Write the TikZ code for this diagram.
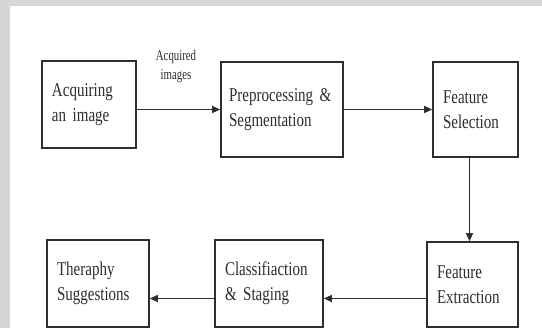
\documentclass[tikz,border=0pt]{standalone}
\usepackage{fontspec}
\setmainfont{Liberation Serif}
\newfontfamily\boxfont[FakeStretch=0.77]{Liberation Serif}
\newfontfamily\tagfont[FakeStretch=0.72]{Liberation Serif}
\usetikzlibrary{arrows.meta,positioning}
\definecolor{pagegray}{HTML}{D6D6D6}
\definecolor{inkgray}{HTML}{2E2E2E}
\begin{document}
\begin{tikzpicture}[x=1pt, y=1pt,
        block/.style={rectangle, draw=inkgray, line width=1.6pt, align=left, inner xsep=10pt, text=inkgray,
            font=\boxfont\fontsize{19.5}{25}\selectfont},
        line/.style={draw=inkgray, line width=1.2pt, -{Triangle[length=8pt, width=7pt]}}]

    % page and margins
    \useasboundingbox (0,0) rectangle (542,328);
    \fill[pagegray] (0,0) rectangle (542,328);
    \fill[white] (10,0) rectangle (542,322);

    % top row
    \node [block, text width=74pt, minimum height=87pt] (acquire) at (89,223.5) {Acquiring\\an image};
    \node [block, inner xsep=8pt, text width=106pt, minimum height=95pt] (preproc) at (282,218.5) {Preprocessing \&\\Segmentation};
    \node [block, text width=65pt, minimum height=95pt] (select) at (475.5,218.5) {Feature\\Selection};

    % bottom row
    \node [block, text width=71pt, minimum height=85pt] (extract) at (472.5,43.5) {Feature\\Extraction};
    \node [block, text width=88pt, minimum height=87pt] (classify) at (269,44.5) {Classifiaction\\\& Staging};
    \node [block, text width=82pt, minimum height=87pt] (therapy) at (98,44.5) {Theraphy\\Suggestions};

    \node [text=inkgray, align=center, font=\tagfont\fontsize{15}{19}\selectfont] (acqtag) at (176,262) {Acquired\\images};

    \path [line] (acquire.east |- preproc.west) -- (preproc.west);
    \path [line] (preproc.east) -- (select.west);
    \path [line] ([xshift=-6pt]select.south) -- ([xshift=-6pt]select.south |- extract.north);
    \path [line] ([yshift=-14pt]extract.west) -- ([yshift=-14pt]extract.west -| classify.east);
    \path [line] ([yshift=-15pt]classify.west) -- ([yshift=-15pt]classify.west -| therapy.east);
\end{tikzpicture}
\end{document}
